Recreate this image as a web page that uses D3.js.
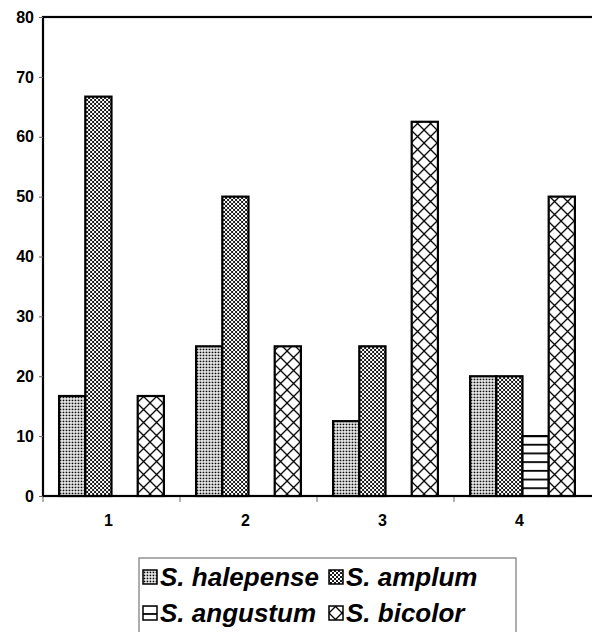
<!DOCTYPE html>
<html>
<head>
<meta charset="utf-8">
<script src="https://cdn.jsdelivr.net/npm/d3@7"></script>
<style>
  body { margin: 0; background: #fff; }
  svg { display: block; font-family: "Liberation Sans", Arial, sans-serif; }
</style>
</head>
<body>
<svg id="chart" width="592" height="632"></svg>
<script>
// data (percent per group)
const categories = ["1", "2", "3", "4"];
const species = ["S. halepense", "S. amplum", "S. angustum", "S. bicolor"];
const halepense = [16.7, 25, 12.5, 20];
const amplum = [66.7, 50, 25, 20];
const angustum = [0, 0, 0, 10];
const bicolor = [16.7, 25, 62.5, 50];
const yTicks = [0, 10, 20, 30, 40, 50, 60, 70, 80];

const seriesValues = [halepense, amplum, angustum, bicolor];
const patternIds = ["p-dots", "p-dense", "p-hlines", "p-cross"];

const svg = d3.select("#chart");
const plotLeft = 43, plotTop = 17, plotBottom = 496, bandW = 137;

const x = d3.scaleBand()
    .domain(categories)
    .range([plotLeft, plotLeft + bandW * categories.length])
    .paddingInner(0.235)
    .paddingOuter(0.1175);

const x1 = d3.scaleBand()
    .domain(species)
    .range([0, x.bandwidth()]);

const y = d3.scaleLinear()
    .domain([0, 80])
    .range([plotBottom, plotTop]);

// patterns
const defs = svg.append("defs");

let p = defs.append("pattern").attr("id", "p-dots")
    .attr("patternUnits", "userSpaceOnUse").attr("width", 3).attr("height", 3);
p.append("rect").attr("width", 3).attr("height", 3).attr("fill", "#fff");
p.append("rect").attr("x", 0.6).attr("y", 0.6).attr("width", 1.7).attr("height", 1.7).attr("fill", "#000");

p = defs.append("pattern").attr("id", "p-dense")
    .attr("patternUnits", "userSpaceOnUse").attr("width", 4).attr("height", 4);
p.append("rect").attr("width", 4).attr("height", 4).attr("fill", "#fff");
p.append("path").attr("d", "M0,0L4,4M0,4L4,0").attr("stroke", "#000").attr("stroke-width", 0.9);

p = defs.append("pattern").attr("id", "p-hlines")
    .attr("patternUnits", "userSpaceOnUse").attr("width", 8).attr("height", 8.7)
    .attr("y", plotBottom);
p.append("rect").attr("width", 8).attr("height", 8.7).attr("fill", "#fff");
p.append("rect").attr("y", 0).attr("width", 8).attr("height", 1.8).attr("fill", "#000");

p = defs.append("pattern").attr("id", "p-cross")
    .attr("patternUnits", "userSpaceOnUse").attr("width", 13).attr("height", 13);
p.append("rect").attr("width", 13).attr("height", 13).attr("fill", "#fff");
p.append("path").attr("d", "M0,0L13,13M0,13L13,0").attr("stroke", "#000").attr("stroke-width", 1.3);

// frame (right edge runs off the picture)
svg.append("rect")
    .attr("x", plotLeft).attr("y", plotTop)
    .attr("width", 620 - plotLeft).attr("height", plotBottom - plotTop)
    .attr("fill", "none").attr("stroke", "#000").attr("stroke-width", 2.2);

// y axis
const yAxis = d3.axisLeft(y).tickValues(yTicks).tickSize(4).tickPadding(5);
const gy = svg.append("g").attr("transform", `translate(${plotLeft},0)`).call(yAxis);
gy.select(".domain").remove();
gy.selectAll(".tick line").attr("stroke", "#666");
gy.selectAll(".tick text")
    .attr("font-size", 16).attr("font-weight", "bold")
    .attr("font-family", "Liberation Sans, Arial, sans-serif").attr("fill", "#000");

// x axis: ticks sit on the category borders
const gx = svg.append("g").attr("transform", `translate(0,${plotBottom})`);
const borders = d3.range(categories.length).map(i => x(categories[i]) - x.step() * x.paddingOuter());
gx.selectAll("line.border").data(borders).enter().append("line")
    .attr("x1", d => d).attr("x2", d => d)
    .attr("y1", 1).attr("y2", 6)
    .attr("stroke", "#666");
gx.selectAll("text").data(categories).enter().append("text")
    .attr("x", d => x(d) + x.bandwidth() / 2 - 3)
    .attr("y", 30)
    .attr("text-anchor", "middle")
    .attr("font-size", 16).attr("font-weight", "bold")
    .text(d => d);

// bars
const groups = svg.selectAll("g.group")
    .data(categories)
    .enter().append("g")
    .attr("class", "group")
    .attr("transform", d => `translate(${x(d)},0)`);

groups.selectAll("rect")
    .data((d, i) => species.map((s, j) => ({ s, j, v: seriesValues[j][i] })).filter(e => e.v > 0))
    .enter().append("rect")
    .attr("x", d => x1(d.s))
    .attr("y", d => y(d.v))
    .attr("width", x1.bandwidth())
    .attr("height", d => y(0) - y(d.v))
    .attr("fill", d => `url(#${patternIds[d.j]})`)
    .attr("stroke", "#000")
    .attr("stroke-width", 2.2);

// bottom axis line on top of bars
svg.append("line")
    .attr("x1", plotLeft).attr("x2", 600)
    .attr("y1", plotBottom).attr("y2", plotBottom)
    .attr("stroke", "#000").attr("stroke-width", 2.2);

// legend
const legend = svg.append("g");
legend.append("rect")
    .attr("x", 139).attr("y", 558)
    .attr("width", 377).attr("height", 100)
    .attr("fill", "#fff").attr("stroke", "#777").attr("stroke-width", 1.2);

const colX = [143, 329];
const rowY = [577, 613];
const items = legend.selectAll("g.item")
    .data(species)
    .enter().append("g")
    .attr("class", "item")
    .attr("transform", (d, i) => `translate(${colX[i % 2]},${rowY[Math.floor(i / 2)]})`);

items.append("rect")
    .attr("x", 0).attr("y", -7)
    .attr("width", 14).attr("height", 14)
    .attr("fill", (d, i) => `url(#${patternIds[i]})`)
    .attr("stroke", "#000").attr("stroke-width", 1.5);

items.append("text")
    .attr("x", 17).attr("y", 9)
    .attr("font-size", 26).attr("font-weight", "bold").attr("font-style", "italic")
    .text(d => d);
</script>
</body>
</html>
